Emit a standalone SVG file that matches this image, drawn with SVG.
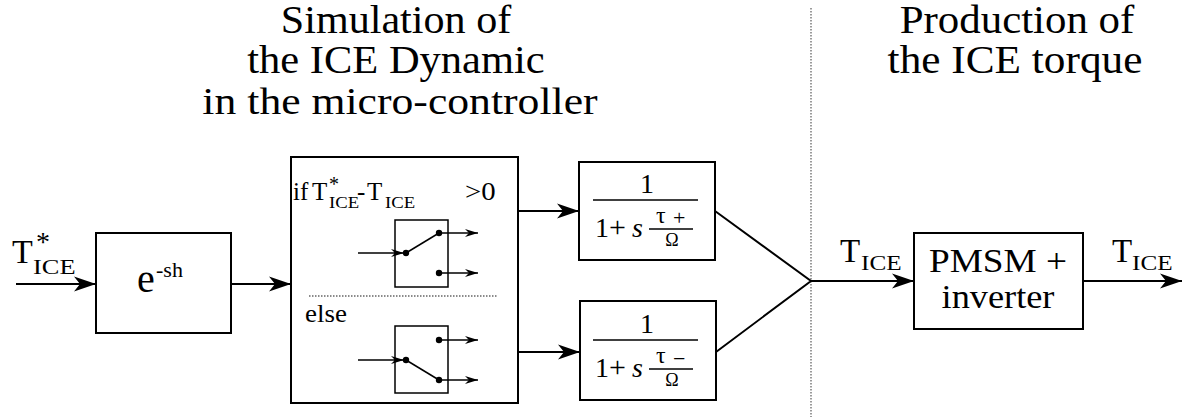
<svg xmlns="http://www.w3.org/2000/svg" width="1197" height="417" viewBox="0 0 1197 417">
<defs>
<marker id="big" viewBox="-22 -8 22 16" refX="0" refY="0" markerWidth="22" markerHeight="16" markerUnits="userSpaceOnUse" orient="auto">
<path d="M0,0 L-22,-7.5 L-16,0 L-22,7.5 Z" fill="#000"/>
</marker>
<marker id="small" viewBox="-13 -5 13 10" refX="0" refY="0" markerWidth="13" markerHeight="10" markerUnits="userSpaceOnUse" orient="auto">
<path d="M0,0 L-13,-4 L-9,0 L-13,4 Z" fill="#000"/>
</marker>
</defs>
<style>
.title{font-size:39px;text-anchor:middle}
.box{fill:#fff;stroke:#000;stroke-width:2}
.sw{fill:#fff;stroke:#000;stroke-width:1.5}
.line{stroke:#000;stroke-width:2;fill:none}
.thin{stroke:#000;stroke-width:1.5;fill:none}
.dot{stroke:#666;stroke-width:1.3;stroke-dasharray:1.5 1.5;fill:none}
.arrow{stroke:#000;stroke-width:2;fill:none;marker-end:url(#big)}
.sarrow{stroke:#000;stroke-width:1.5;fill:none;marker-end:url(#small)}
.m{font-size:25px}
</style>

<g id="titles">
<text class="title" font-family="Liberation Serif" transform="translate(396,33) scale(1.08,1)">Simulation of</text>
<text class="title" font-family="Liberation Serif" transform="translate(396,73) scale(1.09,1)">the ICE Dynamic</text>
<text class="title" font-family="Liberation Serif" transform="translate(400,114) scale(1.12,1)">in the micro-controller</text>
<text class="title" font-family="Liberation Serif" transform="translate(1017,33) scale(1.1,1)">Production of</text>
<text class="title" font-family="Liberation Serif" transform="translate(1015,73) scale(1.11,1)">the ICE torque</text>
</g>

<g id="separators">
<line class="dot" x1="811" y1="8" x2="811" y2="417"/>
</g>

<g id="input-label">
<text font-family="Liberation Serif" x="12" y="263" font-size="34">T</text>
<text font-family="Liberation Serif" x="36" y="251" font-size="28">*</text>
<text font-family="Liberation Serif" font-size="22" transform="translate(33,274) scale(1.2,1)">ICE</text>
</g>

<g id="delay">
<rect class="box" x="96" y="233" width="135" height="100"/>
<text font-family="Liberation Serif" x="137" y="292" font-size="40">e</text>
<text font-family="Liberation Serif" x="156" y="277" font-size="22">-sh</text>
</g>

<g id="selector">
<rect class="box" x="291" y="157" width="227" height="246"/>
<text font-family="Liberation Serif" x="293" y="200" class="m">if</text>
<text font-family="Liberation Serif" x="312" y="200" class="m">T</text>
<text font-family="Liberation Serif" x="329" y="191" font-size="20">*</text>
<text font-family="Liberation Serif" font-size="17" transform="translate(329,208) scale(1.1,1)">ICE</text>
<text font-family="Liberation Serif" x="357" y="200" class="m">-</text>
<text font-family="Liberation Serif" x="367" y="200" class="m">T</text>
<text font-family="Liberation Serif" font-size="17" transform="translate(385,208) scale(1.1,1)">ICE</text>
<text font-family="Liberation Serif" class="m" transform="translate(465,200) scale(1.15,1)">&gt;0</text>
<g id="switch-up">
<rect class="sw" x="395" y="220" width="53" height="67"/>
<line class="sarrow" x1="358" y1="253" x2="404" y2="253"/>
<line class="thin" x1="406" y1="253" x2="439" y2="233"/>
<circle cx="406" cy="253" r="3.2"/>
<circle cx="439" cy="233" r="3.2"/>
<circle cx="439" cy="273" r="3.2"/>
<line class="sarrow" x1="439" y1="233" x2="478" y2="233"/>
<line class="sarrow" x1="439" y1="273" x2="478" y2="273"/>
</g>
<line class="dot" x1="309" y1="296" x2="498" y2="296"/>
<text font-family="Liberation Serif" class="m" transform="translate(305,322) scale(1.08,1)">else</text>
<g id="switch-down">
<rect class="sw" x="395" y="326" width="53" height="67"/>
<line class="sarrow" x1="358" y1="360" x2="404" y2="360"/>
<line class="thin" x1="406" y1="360" x2="439" y2="380"/>
<circle cx="406" cy="360" r="3.2"/>
<circle cx="439" cy="340" r="3.2"/>
<circle cx="439" cy="380" r="3.2"/>
<line class="sarrow" x1="439" y1="340" x2="478" y2="340"/>
<line class="sarrow" x1="439" y1="380" x2="478" y2="380"/>
</g>
</g>

<g id="tf-plus">
<rect class="box" x="579" y="162" width="136" height="98"/>
<text font-family="Liberation Serif" x="647" y="193" font-size="28" text-anchor="middle">1</text>
<line class="thin" x1="593" y1="200" x2="698" y2="200"/>
<text font-family="Liberation Serif" x="595" y="237" font-size="28">1</text>
<text font-family="Liberation Serif" x="609" y="237" font-size="30">+</text>
<text font-family="Liberation Serif" x="632" y="237" font-size="28" font-style="italic">s</text>
<text font-family="Liberation Serif" x="656" y="223" font-size="24">τ</text>
<text font-family="Liberation Serif" x="673" y="225" font-size="22">+</text>
<line class="thin" x1="649" y1="229" x2="693" y2="229" stroke-width="1.2"/>
<text font-family="Liberation Serif" x="672" y="246" font-size="18" text-anchor="middle">Ω</text>
</g>

<g id="tf-minus">
<rect class="box" x="580" y="301" width="136" height="99"/>
<text font-family="Liberation Serif" x="647" y="333" font-size="28" text-anchor="middle">1</text>
<line class="thin" x1="593" y1="340" x2="698" y2="340"/>
<text font-family="Liberation Serif" x="595" y="377" font-size="28">1</text>
<text font-family="Liberation Serif" x="609" y="377" font-size="30">+</text>
<text font-family="Liberation Serif" x="632" y="377" font-size="28" font-style="italic">s</text>
<text font-family="Liberation Serif" x="656" y="363" font-size="24">τ</text>
<text font-family="Liberation Serif" x="673" y="366" font-size="22">−</text>
<line class="thin" x1="649" y1="369" x2="693" y2="369" stroke-width="1.2"/>
<text font-family="Liberation Serif" x="672" y="386" font-size="18" text-anchor="middle">Ω</text>
</g>

<g id="pmsm">
<rect class="box" x="914" y="233" width="169" height="96"/>
<text font-family="Liberation Serif" font-size="33" text-anchor="middle" transform="translate(998,272) scale(1.13,1)">PMSM +</text>
<text font-family="Liberation Serif" font-size="33" text-anchor="middle" transform="translate(998,308) scale(1.1,1)">inverter</text>
</g>

<g id="torque-labels">
<text font-family="Liberation Serif" x="840" y="262" font-size="33">T</text>
<text font-family="Liberation Serif" font-size="21" transform="translate(861,270) scale(1.2,1)">ICE</text>
<text font-family="Liberation Serif" x="1112" y="262" font-size="33">T</text>
<text font-family="Liberation Serif" font-size="21" transform="translate(1132,270) scale(1.2,1)">ICE</text>
</g>

<g id="connectors">
<line class="arrow" x1="16" y1="284" x2="96" y2="284"/>
<line class="arrow" x1="231" y1="284" x2="291" y2="284"/>
<line class="arrow" x1="518" y1="211" x2="579" y2="211"/>
<line class="arrow" x1="518" y1="352" x2="580" y2="352"/>
<polyline class="line" points="715,211 811,281 716,352"/>
<line class="arrow" x1="811" y1="281" x2="914" y2="281"/>
<line class="arrow" x1="1083" y1="281" x2="1182" y2="281"/>
</g>
</svg>
